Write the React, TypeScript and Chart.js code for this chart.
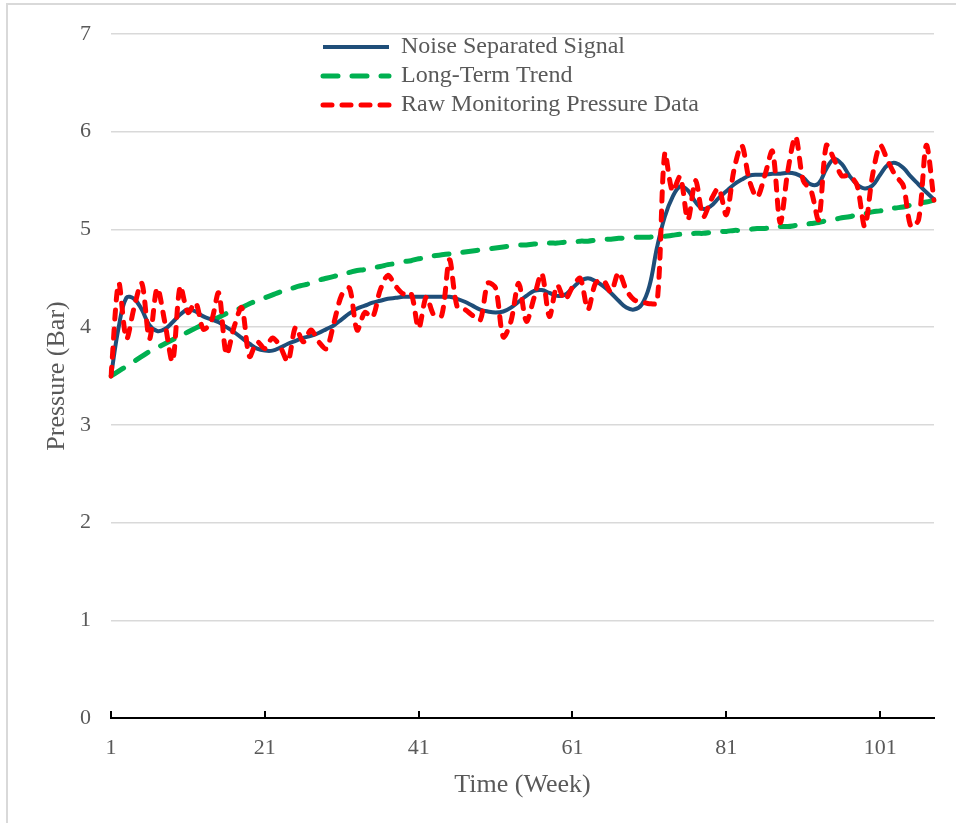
import React, { useEffect, useRef } from "react";
import { Chart, registerables } from "chart.js";

Chart.register(...registerables);

// ---- Data ----
const weeks: string[] = Array.from({ length: 108 }, (_, i) => String(i + 1));
const xTickLabels = ["1", "21", "41", "61", "81", "101"];

const noiseSeparated = [
  3.5, 4.0, 4.3, 4.29, 4.18, 4.02, 3.96, 3.98, 4.05, 4.13,
  4.18, 4.16, 4.11, 4.08, 4.05, 4.0, 3.95, 3.89, 3.83, 3.78,
  3.76, 3.76, 3.79, 3.83, 3.86, 3.89, 3.91, 3.94, 3.98, 4.02,
  4.08, 4.14, 4.19, 4.22, 4.25, 4.27, 4.29, 4.3, 4.31, 4.31,
  4.31, 4.31, 4.31, 4.31, 4.31, 4.29, 4.26, 4.22, 4.18, 4.16,
  4.15, 4.16, 4.2, 4.26, 4.32, 4.37, 4.38, 4.35, 4.32, 4.33,
  4.4, 4.47, 4.5, 4.47, 4.42, 4.35, 4.27, 4.2, 4.18, 4.23,
  4.42, 4.82, 5.13, 5.33, 5.44, 5.4, 5.28, 5.21, 5.24, 5.32,
  5.39, 5.46, 5.51, 5.55, 5.56, 5.56, 5.57, 5.57, 5.58, 5.57,
  5.53, 5.46, 5.47, 5.62, 5.72, 5.67, 5.55, 5.46, 5.42, 5.45,
  5.56, 5.66, 5.68, 5.63, 5.54, 5.46, 5.38, 5.31,
];

const longTermTrend = [
  3.5, 3.55, 3.6, 3.65, 3.7, 3.75, 3.79, 3.83, 3.87, 3.91,
  3.95, 3.99, 4.03, 4.07, 4.1, 4.14, 4.17, 4.2, 4.24, 4.27,
  4.3, 4.33, 4.36, 4.38, 4.41, 4.43, 4.45, 4.48, 4.5, 4.52,
  4.54, 4.56, 4.58, 4.59, 4.61, 4.62, 4.64, 4.65, 4.67, 4.68,
  4.7, 4.71, 4.73, 4.74, 4.75, 4.76, 4.77, 4.78, 4.79, 4.8,
  4.81, 4.82, 4.83, 4.84, 4.84, 4.85, 4.85, 4.86, 4.86, 4.87,
  4.87, 4.88, 4.88, 4.89, 4.9, 4.9, 4.91, 4.91, 4.92, 4.92,
  4.92, 4.93, 4.93, 4.94, 4.95, 4.95, 4.96, 4.96, 4.97, 4.98,
  4.98, 4.99, 4.99, 5.0, 5.01, 5.01, 5.02, 5.03, 5.03, 5.04,
  5.05, 5.06, 5.07, 5.09, 5.1, 5.12, 5.13, 5.15, 5.16, 5.18,
  5.19, 5.21, 5.22, 5.23, 5.25, 5.27, 5.28, 5.3,
];

const rawPressure = [
  3.5, 4.45, 3.88, 4.2, 4.45, 3.88, 4.4, 4.05, 3.65, 4.42,
  4.15, 4.25, 3.98, 4.05, 4.35, 3.72, 4.0, 4.2, 3.7, 3.85,
  3.78, 3.89, 3.8, 3.65, 4.0, 3.85, 3.97, 3.85, 3.78, 4.05,
  4.33, 4.4, 3.97, 4.15, 4.1, 4.38, 4.53, 4.42, 4.34, 4.35,
  3.99, 4.31, 4.12, 4.12, 4.69, 4.21, 4.18, 4.12, 4.07, 4.45,
  4.4, 3.9, 4.06, 4.45, 4.06, 4.3, 4.55, 4.11, 4.43, 4.28,
  4.41, 4.5, 4.18, 4.45, 4.48, 4.36, 4.56, 4.38, 4.28, 4.26,
  4.24, 4.25, 5.78, 5.39, 5.54, 5.1, 5.5, 5.13, 5.3, 5.42,
  5.15, 5.61, 5.86, 5.5, 5.33, 5.55, 5.8, 5.07, 5.6, 5.95,
  5.5, 5.4, 5.1, 5.86, 5.72, 5.55, 5.55, 5.45, 5.03, 5.55,
  5.86, 5.7, 5.55, 5.45, 5.03, 5.1, 5.86, 5.3,
];

const FONT = "'Liberation Serif', 'Times New Roman', serif";
const TEXT = "#595959";

const legendPlacer = {
  id: "legendPlacer",
  afterLayout(chart: any) {
    const lg = chart.legend;
    if (!lg) return;
    lg.left = 318;
    lg.top = 30;
    lg.right = 318 + lg.width;
    lg.bottom = chart.chartArea.bottom;
  },
};

export default function App() {
  const canvasRef = useRef<HTMLCanvasElement | null>(null);

  useEffect(() => {
    const canvas = canvasRef.current;
    if (!canvas) return;
    const chart = new Chart(canvas, {
      type: "line",
      data: {
        labels: weeks,
        datasets: [
          {
            label: "Noise Separated Signal",
            data: noiseSeparated,
            borderColor: "#1F4E79",
            backgroundColor: "#1F4E79",
            borderWidth: 4,
            pointRadius: 0,
            tension: 0.4,
            fill: false,
            order: 2,
          },
          {
            label: "Long-Term Trend",
            data: longTermTrend,
            borderColor: "#00B050",
            backgroundColor: "#00B050",
            borderWidth: 5,
            borderDash: [15, 14],
            borderCapStyle: "round",
            pointRadius: 0,
            tension: 0.4,
            fill: false,
            order: 3,
          },
          {
            label: "Raw Monitoring Pressure Data",
            data: rawPressure,
            borderColor: "#FF0000",
            backgroundColor: "#FF0000",
            borderWidth: 5,
            borderDash: [9, 10],
            borderCapStyle: "round",
            pointRadius: 0,
            tension: 0.3,
            fill: false,
            order: 1,
          },
        ],
      },
      options: {
        responsive: false,
        animation: false,
        layout: { padding: { left: 0, top: 34, right: 22, bottom: 0 } },
        plugins: {
          tooltip: { enabled: false },
          legend: {
            position: "chartArea" as any,
            align: "start",
            labels: {
              usePointStyle: true,
              pointStyle: "line",
              pointStyleWidth: 66,
              padding: 5,
              color: TEXT,
              font: { family: FONT, size: 24 },
              generateLabels: (ch: any) =>
                ch.data.datasets.map((ds: any, i: number) => ({
                  text: ds.label,
                  strokeStyle: ds.borderColor,
                  fillStyle: ds.borderColor,
                  lineWidth: ds.borderWidth,
                  lineDash: ds.borderDash || [],
                  lineCap: ds.borderCapStyle || "butt",
                  pointStyle: "line",
                  hidden: false,
                  datasetIndex: i,
                  fontColor: TEXT,
                })),
            },
          },
        },
        scales: {
          x: {
            type: "category",
            offset: false,
            grid: {
              display: true,
              drawOnChartArea: false,
              drawTicks: true,
              tickLength: -7,
              tickWidth: 2,
              tickColor: "#000000",
              color: "#000000",
              lineWidth: 2,
            },
            border: { display: true, color: "#000000", width: 2 },
            ticks: {
              autoSkip: false,
              maxRotation: 0,
              padding: 24,
              color: TEXT,
              font: { family: FONT, size: 22 },
            },
            title: {
              display: true,
              text: "Time (Week)",
              color: TEXT,
              font: { family: FONT, size: 26 },
              padding: { top: 0, bottom: 22 },
            },
            afterBuildTicks: (axis: any) => {
              axis.ticks = axis.ticks.filter((t: any) =>
                xTickLabels.includes(weeks[t.value])
              );
            },
            afterFit: (axis: any) => {
              axis.height = 105;
            },
          },
          y: {
            min: 0,
            max: 7,
            ticks: {
              stepSize: 1,
              padding: 20,
              color: TEXT,
              font: { family: FONT, size: 22 },
            },
            grid: { color: "#d9d9d9", lineWidth: 1.5, drawTicks: false },
            border: { display: false },
            title: {
              display: true,
              text: "Pressure (Bar)",
              color: TEXT,
              font: { family: FONT, size: 26 },
              padding: { top: 42, bottom: 0 },
            },
            afterFit: (axis: any) => {
              axis.width = 111;
            },
          },
        },
      },
      plugins: [legendPlacer],
    } as any);
    return () => chart.destroy();
  }, []);

  return (
    <div
      style={{
        position: "fixed",
        left: 0,
        top: 0,
        width: 956,
        height: 823,
        background: "#ffffff",
        overflow: "hidden",
      }}
    >
      <div
        style={{
          position: "absolute",
          left: 6,
          top: 3,
          width: 990,
          height: 860,
          border: "2px solid #d9d9d9",
          boxSizing: "border-box",
        }}
      />
      <canvas
        ref={canvasRef}
        width={956}
        height={823}
        style={{ position: "absolute", left: 0, top: 0 }}
      />
    </div>
  );
}
